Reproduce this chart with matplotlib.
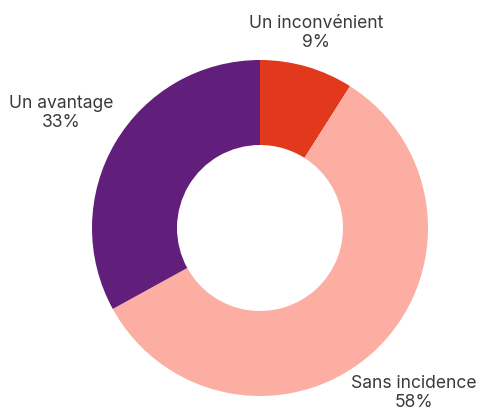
import matplotlib.pyplot as plt

# donnees
categories = ['Un inconvénient', 'Sans incidence', 'Un avantage']
valeurs = [9, 58, 33]
couleurs = ['#E2391C', '#FCAEA3', '#621E7B']

plt.rcParams['font.family'] = ['Inter', 'DejaVu Sans']

fig = plt.figure(figsize=(4.83, 4.12), dpi=100, facecolor='w')
ax = fig.add_axes([0, 0, 1, 1])

# centre en pixels (260, 228) -> y inverse
cx, cy, r = 260, 412 - 228, 168
ax.pie(valeurs, colors=couleurs, startangle=90, counterclock=False,
       center=(cx, cy), radius=r, frame=True,
       wedgeprops=dict(width=r - 83, linewidth=0))
ax.set_xlim(0, 483)
ax.set_ylim(0, 412)
ax.axis('off')

# etiquettes
pos = [(316, 412 - 33), (414, 412 - 393), (61, 412 - 113)]
for cat, v, (x, y) in zip(categories, valeurs, pos):
    ax.text(x, y, cat + '\n' + str(v) + '%', ha='center', va='center',
            fontsize=12.6, color='#3a3a3a', linespacing=1.2)

plt.savefig('out.png', dpi=100)
